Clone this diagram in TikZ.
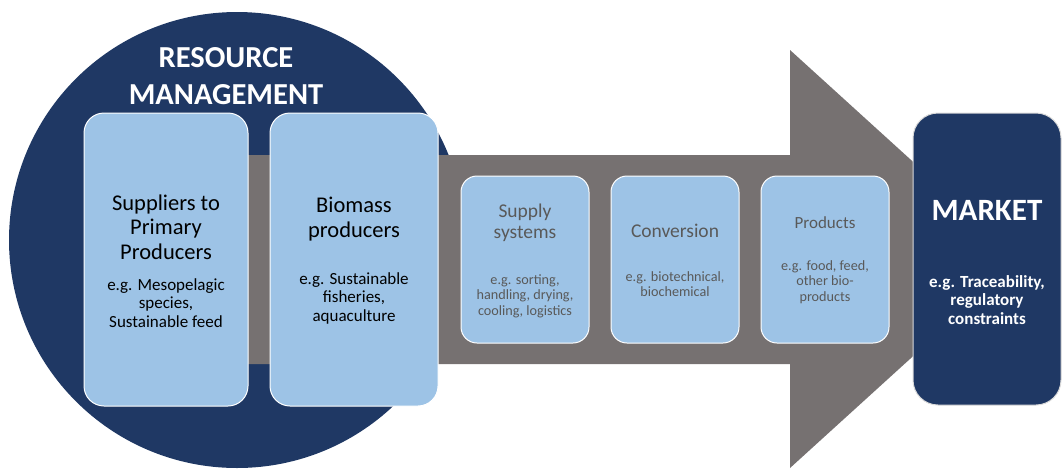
\documentclass[tikz,border=0pt]{standalone}
\usepackage{fontspec}
\setmainfont{Carlito}
\usetikzlibrary{positioning}
\definecolor{navy}{RGB}{31,56,100}
\definecolor{paleblue}{RGB}{157,195,230}
\definecolor{arrowgray}{RGB}{118,113,113}
\definecolor{textgray}{RGB}{89,89,89}
\tikzset{
  bigbox/.style={draw=white, line width=1pt, fill=paleblue, rounded corners=20pt, minimum width=#1, minimum height=293pt, inner sep=0pt},
  smallbox/.style={draw=white, line width=1pt, fill=paleblue, rounded corners=16pt, minimum width=128pt, minimum height=167pt, inner sep=0pt},
  boxtext/.style 2 args={align=center, inner sep=0pt, font=\fontsize{#1}{#2}\selectfont},
  boldtext/.style 2 args={align=center, inner sep=0pt, text=white, font=\fontsize{#1}{#2}\selectfont\bfseries}
}

\begin{document}
\begin{tikzpicture}[x=1pt,y=-1pt]
        \useasboundingbox (0,0) rectangle (1064,474);
        \node[circle, fill=navy, minimum size=456pt, inner sep=0pt] (resource) at (237,240) {};
        \node[boldtext={30.5}{37}] (restitle) at (226,76) {RESOURCE\\MANAGEMENT};
        \fill[arrowgray] (150,155) -- (790,155) -- (790,50) -- (1020,259) -- (790,468) -- (790,364) -- (150,364) -- cycle;
        \node[bigbox=164pt] (suppliers) at (166,259.5) {};
        \node[bigbox=168pt] (biomass) at (354,259.5) {};
        \node[boxtext={22.5}{24.5}] (supptitle) at (166,227) {Suppliers to\\Primary\\Producers};
        \node[boxtext={17}{18.5}] (suppdesc) at (166,303) {e.g. Mesopelagic\\species,\\Sustainable feed};
        \node[boxtext={22.5}{24.5}] (biotitle) at (354,219) {Biomass\\producers};
        \node[boxtext={17}{18.5}] (biodesc) at (354,298) {e.g. Sustainable\\fisheries,\\aquaculture};
        \node[smallbox] (supply) at (525,259.5) {};
        \node[smallbox] (conversion) at (675,259.5) {};
        \node[smallbox] (products) at (825,259.5) {};
        \node[boxtext={19.5}{21}, text=textgray] (supplytitle) at (525,223) {Supply\\systems};
        \node[boxtext={14.2}{15.5}, text=textgray] (supplydesc) at (525,296) {e.g. sorting,\\handling, drying,\\cooling, logistics};
        \node[boxtext={19.5}{21}, text=textgray] (convtitle) at (675,231) {Conversion};
        \node[boxtext={14.2}{15.5}, text=textgray] (convdesc) at (675,284) {e.g. biotechnical,\\biochemical};
        \node[boxtext={17}{17}, text=textgray] (prodtitle) at (825,223) {Products};
        \node[boxtext={14.2}{15.5}, text=textgray] (proddesc) at (825,282) {e.g. food, feed,\\other bio-\\products};
        \node[draw=white!85!black, line width=1pt, fill=navy, rounded corners=25pt, minimum width=148pt, minimum height=292pt] (market) at (987,259) {};
        \node[boldtext={31}{31}] (markettitle) at (987,210) {MARKET};
        \node[boldtext={17}{18.5}] (marketdesc) at (987,300) {e.g. Traceability,\\regulatory\\constraints};
\end{tikzpicture}
\end{document}
